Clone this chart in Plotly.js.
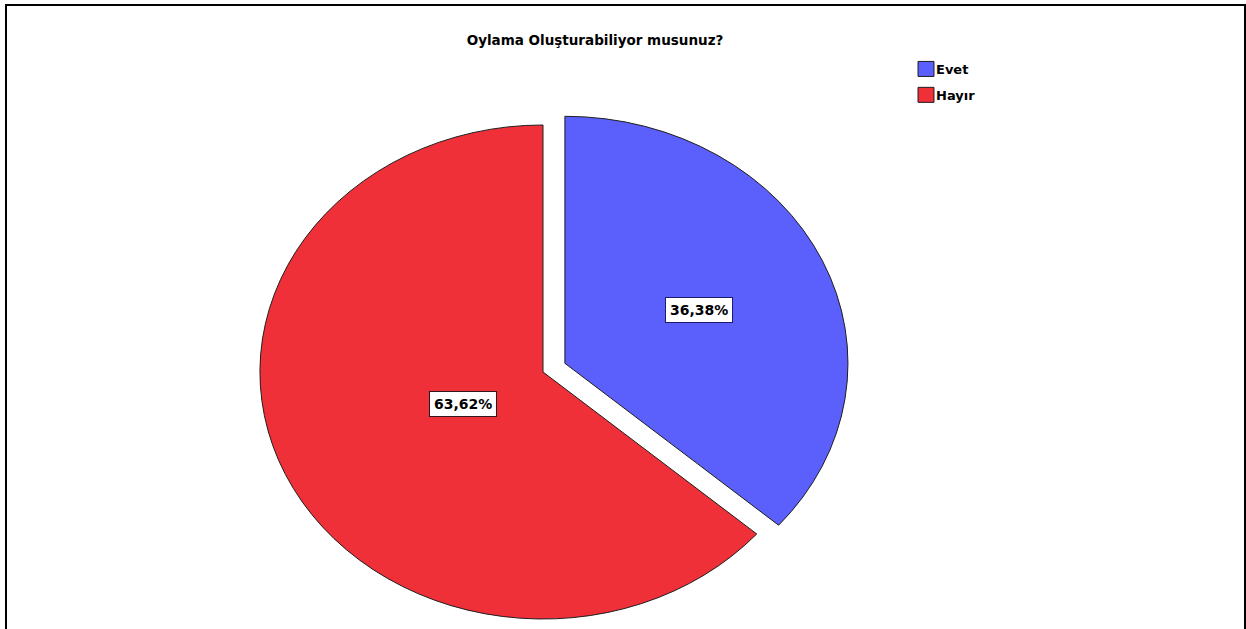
<!DOCTYPE html>
<html><head><meta charset="utf-8">
<script src="https://cdn.plot.ly/plotly-3.0.1.min.js"></script>
<style>html,body{margin:0;padding:0;overflow:hidden;background:#fff}#chart{width:1246px;height:700px}</style>
</head><body><div id="chart"></div>
<script>
// ---- data ----
const categories = ['Evet', 'Hayır'];
const values = [36.38, 63.62];
const sliceColors = ['#5b5ffb', '#ef3039'];
const chartTitle = 'Oylama Oluşturabiliyor musunuz?';

// ---- layout constants ----
const W = 1246, H = 700;
const FONT = 'DejaVu Sans, Verdana, sans-serif';
const pulls = [0.085, 0];
const labelRadius = [0.52, 0.31];
const labelBorder = ['#1c1c6e', '#2a1a1a'];
const stretchX = 1.146;
const domX = [275 / W, 811 / W];
const domY = [1 - 640 / H, 1 - 104 / H];

const cx = W * (domX[0] + domX[1]) / 2;
const cy = H * (1 - (domY[0] + domY[1]) / 2);
const boxW = W * (domX[1] - domX[0]), boxH = H * (domY[1] - domY[0]);
const maxPull = Math.max.apply(null, pulls);
const r = Math.min(boxW, boxH) / (2 + 2 * maxPull);

const total = values.reduce((a, b) => a + b, 0);
const annotations = [];
let cum = 0;
values.forEach((v, i) => {
  const mid = 2 * Math.PI * (cum + v / 2) / total;
  cum += v;
  const dx = Math.sin(mid), dy = -Math.cos(mid);
  const pcx = cx + pulls[i] * r * dx, pcy = cy + pulls[i] * r * dy;
  const px = pcx + labelRadius[i] * r * dx, py = pcy + labelRadius[i] * r * dy;
  const X = cx + stretchX * (px - cx);
  annotations.push({
    xref: 'paper', yref: 'paper', x: X / W, y: 1 - py / H,
    xanchor: 'center', yanchor: 'middle', showarrow: false,
    text: (v / total * 100).toFixed(2).replace('.', ',') + '%',
    font: {family: FONT, size: 14, color: '#000', weight: 'bold'},
    bgcolor: '#ffffff', bordercolor: labelBorder[i], borderwidth: 1, borderpad: 4
  });
});

const trace = {
  type: 'pie', labels: categories, values: values, sort: false,
  direction: 'clockwise', rotation: 0, pull: pulls,
  marker: {colors: sliceColors, line: {color: '#1e1e1e', width: 1}},
  textinfo: 'none', hoverinfo: 'label+percent',
  domain: {x: domX, y: domY}
};

const layout = {
  width: W, height: H,
  margin: {l: 0, r: 0, t: 0, b: 0},
  paper_bgcolor: '#ffffff',
  title: {text: chartTitle, x: 595 / W, xanchor: 'center', y: 1 - 40 / H, yanchor: 'middle',
          font: {family: FONT, size: 13.5, color: '#000', weight: 'bold'}},
  showlegend: true,
  legend: {x: 896 / W, y: 1 - 54 / H, xanchor: 'left', yanchor: 'top',
           bgcolor: 'rgba(0,0,0,0)', borderwidth: 0,
           font: {family: FONT, size: 13, color: '#000', weight: 'bold'}},
  annotations: annotations,
  shapes: [{type: 'rect', xref: 'paper', yref: 'paper', x0: 6 / W, x1: 1245 / W, y0: -0.1, y1: 1 - 5 / H,
            line: {color: '#000', width: 2}, fillcolor: 'rgba(0,0,0,0)'}]
};

Plotly.newPlot('chart', [trace], layout, {displayModeBar: false, staticPlot: true}).then(gd => {
  gd.querySelectorAll('.pielayer path.surface').forEach(p => {
    p.setAttribute('transform', `translate(${cx},0) scale(${stretchX},1) translate(${-cx},0)`);
    p.style.vectorEffect = 'non-scaling-stroke';
  });
  const items = gd.querySelectorAll('.legend .traces');
  items.forEach((g, i) => {
    const sym = g.querySelector('.legendpoints path');
    if (sym) {
      const t = sym.getAttribute('transform') || '';
      sym.setAttribute('transform', t + ' translate(10,0) scale(1.33,1.25)');
      sym.style.vectorEffect = 'non-scaling-stroke';
    }
    if (i > 0) {
      const m = /translate\(([-\d.]+),\s*([-\d.]+)\)/.exec(g.getAttribute('transform') || '');
      if (m) g.setAttribute('transform', `translate(${m[1]},${parseFloat(m[2]) + 6 * i})`);
    }
  });
});
</script>
</body></html>
